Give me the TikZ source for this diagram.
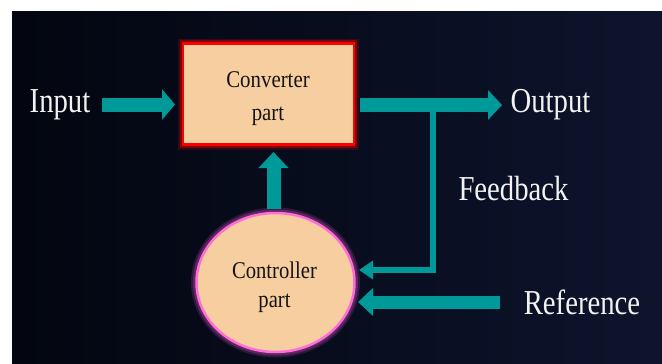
\documentclass[tikz,border=0pt]{standalone}
\usepackage{fontspec}
\setmainfont{Liberation Serif}
\usetikzlibrary{arrows.meta,calc,shapes.geometric}
\definecolor{bgA}{RGB}{3,6,16}
\definecolor{bgB}{RGB}{13,20,44}
\definecolor{arrowteal}{RGB}{0,153,153}
\definecolor{peach}{RGB}{247,206,160}
\definecolor{boxred}{RGB}{255,0,0}
\definecolor{pinkb}{RGB}{255,110,215}
\definecolor{pinkglow}{RGB}{170,60,160}
\definecolor{lbltext}{RGB}{242,242,242}
\definecolor{intext}{RGB}{20,20,20}
\tikzset{
  outerlbl/.style={text=lbltext, inner sep=0pt, anchor=base, font=\fontsize{35}{40}\selectfont},
  innerlbl/.style={text=intext, inner sep=0pt, anchor=base, font=\fontsize{24}{28}\selectfont},
  convbox/.style={rectangle, fill=peach, draw=boxred, line width=2.5pt,
    minimum width=171pt, minimum height=101pt, inner sep=0pt,
    preaction={draw=boxred, line width=10pt, opacity=0.18},
    preaction={draw=boxred, line width=6.5pt, opacity=0.35}},
  ctrlell/.style={ellipse, fill=peach, draw=pinkb, line width=2.5pt,
    minimum width=158pt, minimum height=139pt, inner sep=0pt,
    preaction={draw=pinkglow, line width=11pt, opacity=0.25},
    preaction={draw=pinkglow, line width=7pt, opacity=0.4}},
  blockarrow/.style={draw=arrowteal, line width=14pt, -{Triangle[width=30pt,length=13pt]}},
  thinarrow/.style={draw=arrowteal, line width=5.5pt, line join=miter, -{Triangle[width=18pt,length=14pt]}}
}
\newcommand{\cx}[2]{\scalebox{#1}[1]{#2}}
\begin{document}
\begin{tikzpicture}[x=1pt,y=-1pt]
\useasboundingbox (0,0) rectangle (662,364);
\fill[white] (0,0) rectangle (662,364);
\shade[left color=bgA, right color=bgB] (12,11) rectangle (662,364);

% blocks
\node[convbox] (conv) at (268.5,94) {};
\node[ctrlell] (ctrl) at (275.5,282.5) {};

% inner labels
\node[innerlbl] (convA) at (268,87) {\cx{0.87}{Converter}};
\node[innerlbl] (convB) at (268,120) {\cx{0.87}{part}};
\node[innerlbl] (ctrlA) at (274.5,278) {\cx{0.86}{Controller}};
\node[innerlbl] (ctrlB) at (274.5,307) {\cx{0.86}{part}};

% outer labels
\node[outerlbl] (inlbl) at (60,112) {\cx{0.82}{Input}};
\node[outerlbl] (outlbl) at (550.5,112) {\cx{0.82}{Output}};
\node[outerlbl] (fblbl) at (513.5,200) {\cx{0.82}{Feedback}};
\node[outerlbl] (reflbl) at (582,314) {\cx{0.82}{Reference}};

% connector end points
\coordinate (inS) at (102,104.5);
\coordinate (inT) at (175,104.5);
\coordinate (outS) at (360,105);
\coordinate (outT) at (502,105);
\coordinate (fbS) at (433,106);
\coordinate (fbT) at (359,270);
\coordinate (upS) at (273.5,209);
\coordinate (upT) at (273.5,152);
\coordinate (refS) at (500,302);
\coordinate (refT) at (358,302);

% connectors
\draw[thinarrow] (fbS) |- (fbT);
\draw[blockarrow] (inS) -- (inT);
\draw[blockarrow, -{Triangle[width=29pt,length=14pt]}] (outS) -- (outT);
\draw[blockarrow, -{Triangle[width=29pt,length=16pt]}] (upS) -- (upT);
\draw[blockarrow, line width=13pt, -{Triangle[width=27pt,length=15pt]}] (refS) -- (refT);
\end{tikzpicture}
\end{document}
